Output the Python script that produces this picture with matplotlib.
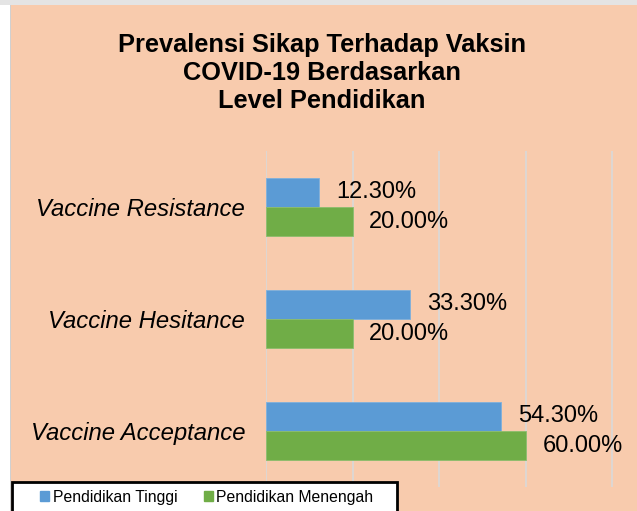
import matplotlib
matplotlib.use("Agg")
import matplotlib.pyplot as plt
from matplotlib.patches import Rectangle, Patch
import numpy as np

plt.rcParams['font.family'] = ['Liberation Sans', 'DejaVu Sans']

categories = ['Vaccine Resistance', 'Vaccine Hesitance', 'Vaccine Acceptance']
tinggi = [12.3, 33.3, 54.3]
menengah = [20.0, 20.0, 60.0]
series_names = ['Pendidikan Tinggi', 'Pendidikan Menengah']
title = 'Prevalensi Sikap Terhadap Vaksin\nCOVID-19 Berdasarkan\nLevel Pendidikan'

peach = '#F8CBAD'
blue = '#5B9BD5'
green = '#70AD47'

W, H = 637, 511
fig = plt.figure(figsize=(W / 100, H / 100), dpi=100, facecolor=peach)

# left white strip and top grey strip like the screenshot
fig.add_artist(Rectangle((0, 0), 10 / W, 1, transform=fig.transFigure,
                         facecolor='white', edgecolor='none', zorder=0))
fig.add_artist(Rectangle((10 / W, 0), 1 / W, 1 - 5 / H, transform=fig.transFigure,
                         facecolor='#d0d0d0', edgecolor='none', zorder=0))
fig.add_artist(Rectangle((0, 1 - 5 / H), 1, 5 / H, transform=fig.transFigure,
                         facecolor='#e4e4e4', edgecolor='none', zorder=0))

ax = fig.add_axes([266 / W, 24 / H, 348 / W, 336 / H])
ax.set_facecolor('none')

y = np.arange(len(categories))[::-1]
h = 0.26
b1 = ax.barh(y + h / 2, tinggi, height=h, color=blue, edgecolor='#7fb0dc', linewidth=0.6, zorder=3)
b2 = ax.barh(y - h / 2, menengah, height=h, color=green, edgecolor='#8cbd6c', linewidth=0.6, zorder=3)

for bars, vals in [(b1, tinggi), (b2, menengah)]:
    for bar, v in zip(bars, vals):
        ax.annotate(f'{v:.2f}%', (bar.get_width(), bar.get_y() + bar.get_height() / 2),
                    xytext=(12, 0), textcoords='offset points',
                    ha='left', va='center', fontsize=17, color='black')

ax.set_xlim(0, 80.4)
ax.set_ylim(-0.5, 2.5)
ax.set_xticks([0, 20, 40, 60, 80])
ax.set_xticklabels([])
ax.tick_params(axis='x', length=0)
ax.grid(axis='x', color='#d9d9d9', linewidth=1.2, zorder=0)
ax.set_yticks(y)
ax.set_yticklabels(categories, fontsize=17.2, style='italic')
ax.tick_params(axis='y', length=0, pad=15)
for s in ax.spines.values():
    s.set_visible(False)

fig.text(0.505, 1 - 73 / H, title, ha='center', va='center', fontsize=18.3,
         fontweight='bold', linespacing=1.22)

# legend box running off the bottom edge
fig.add_artist(Rectangle((12 / W, -0.05), (397 - 12) / W, 0.05 + 1 - 482 / H,
                         transform=fig.transFigure, facecolor='white',
                         edgecolor='black', linewidth=2, zorder=4))
handles = [Patch(color=blue), Patch(color=green)]
leg = fig.legend(handles, series_names, loc='center left', ncol=2,
                 bbox_to_anchor=(40 / W, 1 - 497 / H), frameon=False,
                 fontsize=11.3, borderpad=0, borderaxespad=0,
                 handlelength=0.6, handleheight=0.6, handletextpad=0.2,
                 columnspacing=1.7)
leg.set_zorder(5)

fig.savefig('out.png', dpi=100, facecolor=peach)
